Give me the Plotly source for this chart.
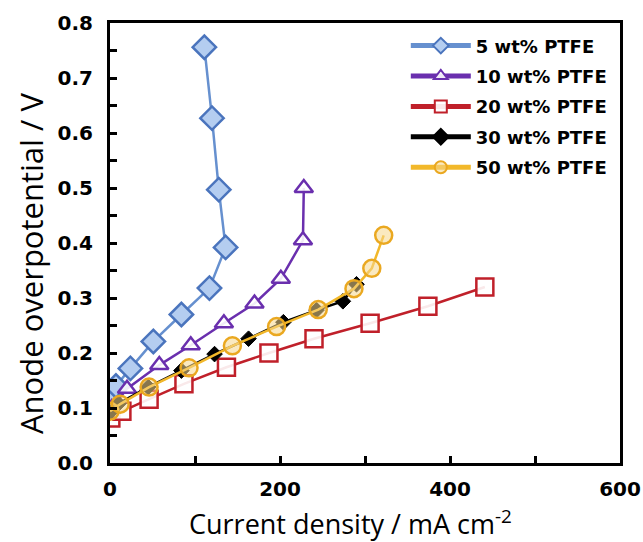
import plotly.graph_objects as go

# Data
names = ["5 wt% PTFE", "10 wt% PTFE", "20 wt% PTFE", "30 wt% PTFE", "50 wt% PTFE"]

x5 = [0, 7, 24, 51, 84, 117, 136, 128, 120, 111]
y5 = [0.125, 0.140, 0.172, 0.221, 0.270, 0.318, 0.392, 0.497, 0.627, 0.756]

x10 = [2, 20, 58, 95, 134, 170, 201, 227, 228]
y10 = [0.100, 0.135, 0.178, 0.214, 0.254, 0.290, 0.335, 0.405, 0.500]

x20 = [1, 14, 46, 87, 137, 187, 240, 306, 374, 441]
y20 = [0.082, 0.094, 0.116, 0.144, 0.174, 0.200, 0.226, 0.254, 0.285, 0.320]

x30 = [0, 10, 45, 84, 123, 163, 204, 243, 274, 290]
y30 = [0.092, 0.108, 0.138, 0.168, 0.198, 0.226, 0.256, 0.278, 0.294, 0.325]

x50 = [0, 12, 46, 93, 144, 196, 245, 287, 308, 322]
y50 = [0.094, 0.107, 0.138, 0.173, 0.213, 0.248, 0.279, 0.317, 0.354, 0.414]

x_title = "Current density / mA cm<sup>-2</sup>"
y_title = "Anode overpotential / V"

fig = go.Figure()

fig.add_trace(go.Scatter(
    x=x5, y=y5, name=names[0], mode="lines+markers", legendgroup="g1",
    line=dict(color="#6690cf", width=2.5),
    marker=dict(symbol="diamond", size=18, color="#b4cdf0",
                line=dict(color="#4a74bd", width=2.5))))

fig.add_trace(go.Scatter(
    x=x10, y=y10, name=names[1], mode="lines+markers", legendgroup="g2",
    line=dict(color="#6a2fae", width=2.5),
    marker=dict(symbol="triangle-up", size=16, color="rgba(255,255,255,0.9)",
                line=dict(color="#6a2fae", width=2.5))))

fig.add_trace(go.Scatter(
    x=x20, y=y20, name=names[2], mode="lines+markers", legendgroup="g3",
    line=dict(color="#c0202a", width=2.5),
    marker=dict(symbol="square", size=17, color="rgba(255,255,255,0.9)",
                line=dict(color="#c0202a", width=2.5))))

fig.add_trace(go.Scatter(
    x=x30, y=y30, name=names[3], mode="lines+markers", legendgroup="g4",
    line=dict(color="#000000", width=2.5),
    marker=dict(symbol="diamond", size=12, color="#000000",
                line=dict(color="#000000", width=1))))

fig.add_trace(go.Scatter(
    x=x50, y=y50, name=names[4], mode="lines+markers", legendgroup="g5",
    line=dict(color="#f2b82a", width=2.5),
    marker=dict(symbol="circle", size=17, color="rgba(245,215,140,0.55)",
                line=dict(color="#eaa820", width=2.5))))

tickfont = dict(family="DejaVu Sans, sans-serif", size=20, color="#000", weight="bold")
titlefont = dict(family="Open Sans, Noto Sans, sans-serif", size=27, color="#000")

fig.update_layout(
    width=643, height=542,
    margin=dict(l=110, r=23, t=23, b=79, autoexpand=False),
    paper_bgcolor="white", plot_bgcolor="white",
    showlegend=True,
    legend=dict(x=0.58, y=0.99, xanchor="left", yanchor="top",
                bgcolor="rgba(0,0,0,0)", borderwidth=0,
                font=dict(family="DejaVu Sans, sans-serif", size=18, color="#000", weight="bold"),
                itemwidth=60, itemsizing="constant",
                traceorder="grouped", tracegroupgap=4),
    xaxis=dict(range=[0, 600], dtick=200, tick0=0, showgrid=False, zeroline=False,
               showline=True, linecolor="#000", linewidth=3, mirror=True,
               ticks="inside", ticklen=7, tickwidth=3, tickcolor="#000",
               minor=dict(dtick=100, ticks="inside", ticklen=7, tickwidth=3, tickcolor="#000", showgrid=False),
               tickfont=tickfont, ticklabelstandoff=6),
    yaxis=dict(range=[0, 0.8], dtick=0.1, tick0=0, tickformat=".1f", showgrid=False, zeroline=False,
               showline=True, linecolor="#000", linewidth=3, mirror=True,
               ticks="inside", ticklen=7, tickwidth=3, tickcolor="#000",
               minor=dict(dtick=0.05, ticks="inside", ticklen=7, tickwidth=3, tickcolor="#000", showgrid=False),
               tickfont=tickfont, ticklabelstandoff=10),
    annotations=[
        dict(text=x_title, xref="paper", yref="paper", x=(350 - 110) / 510, y=-(522 - 463) / 440,
             xanchor="center", yanchor="middle", showarrow=False, font=titlefont),
        dict(text=y_title, xref="paper", yref="paper", x=-(110 - 31) / 510, y=(463 - 264) / 440,
             xanchor="center", yanchor="middle", showarrow=False, textangle=-90,
             font=dict(family="Open Sans, Noto Sans, sans-serif", size=31, color="#000")),
    ],
)

fig.write_html("out.html", config={"displayModeBar": False},
               post_script="document.body.style.margin='0';document.body.style.overflow='hidden';")
